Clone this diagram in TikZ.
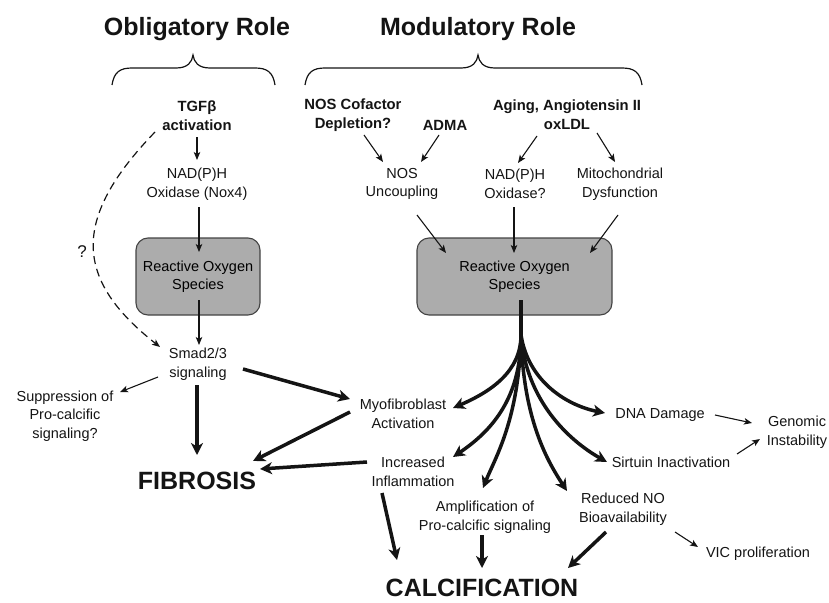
\documentclass[tikz,border=0pt]{standalone}
\usepackage{fontspec}
\setmainfont{Liberation Sans}
\usetikzlibrary{arrows.meta}
\definecolor{rosgray}{RGB}{172,172,172}
\definecolor{ink}{RGB}{20,20,20}
\tikzset{
  txt/.style={inner sep=0pt, align=center, text=ink, font=\fontsize{14.5}{18.5}\selectfont},
  btxt/.style={txt, font=\fontsize{14.8}{19}\selectfont\bfseries},
  big/.style={inner sep=0pt, text=ink, font=\fontsize{25}{30}\selectfont\bfseries},
  rosbox/.style={draw=ink!80, line width=1.1pt, fill=rosgray, rounded corners=12pt, minimum width=#1, minimum height=77pt, inner sep=0pt, align=center, font=\fontsize{14.5}{18.5}\selectfont},
  thinarr/.style={draw=ink, line width=1.1pt, -{Stealth[length=8pt,width=6.5pt,inset=2pt]}},
  thickarr/.style={draw=ink, line width=3.5pt, -{Stealth[length=12pt,width=12pt,inset=3.5pt]}},
  dasharr/.style={draw=ink, line width=1.2pt, dash pattern=on 8pt off 5pt, -{Stealth[length=8pt,width=6.5pt,inset=2pt]}},
  bracestyle/.style={draw=ink, line width=1.2pt}
}
\begin{document}
\begin{tikzpicture}[x=1pt,y=-1pt]
\useasboundingbox (0,0) rectangle (829,602);
% headings
\node[big] (obl) at (197,29) {Obligatory Role};
\node[big] (mod) at (478,29) {Modulatory Role};
% braces
\draw[bracestyle] (112,85) .. controls (114,72) and (120,68) .. (132,68) -- (176,68) .. controls (188,68) and (192,62) .. (193,55) .. controls (194,62) and (198,68) .. (210,68) -- (255,68) .. controls (267,68) and (273,72) .. (275,85);
\draw[bracestyle] (305,85) .. controls (307,72) and (313,68) .. (325,68) -- (461,68) .. controls (473,68) and (477,62) .. (478,55) .. controls (479,62) and (483,68) .. (495,68) -- (622,68) .. controls (634,68) and (640,72) .. (642,85);
% obligatory column
\node[btxt] (tgf) at (197,116) {TGFβ\\activation};
\node[txt] (nox) at (197,184) {NAD(P)H\\Oxidase (Nox4)};
\node[rosbox=124pt] (ros1) at (198,276.5) {Reactive Oxygen\\Species};
\node[txt] (smad) at (198,364) {Smad2/3\\signaling};
\node[txt] (supp) at (65,416) {Suppression of\\Pro-calcific\\signaling?};
\node[txt, font=\fontsize{17}{20}\selectfont] (q) at (82,252) {?};
\node[big] (fib) at (197,481) {FIBROSIS};
% modulatory column
\node[btxt] (cof) at (353,115) {NOS Cofactor\\Depletion?};
\node[btxt] (adma) at (445,125) {ADMA};
\node[btxt] (aging) at (567,115) {Aging, Angiotensin II\\oxLDL};
\node[txt] (nosu) at (402,184) {NOS\\Uncoupling};
\node[txt] (nadox) at (515,184) {NAD(P)H\\Oxidase?};
\node[txt] (mito) at (620,184) {Mitochondrial\\Dysfunction};
\node[rosbox=195pt] (ros2) at (514.5,276.5) {Reactive Oxygen\\Species};
% effects
\node[txt] (myo) at (403,414) {Myofibroblast\\Activation};
\node[txt] (infl) at (413,472) {Increased\\Inflammation};
\node[txt] (ampl) at (485,517) {Amplification of\\Pro-calcific signaling};
\node[txt] (rno) at (623,509) {Reduced NO\\Bioavailability};
\node[txt] (vic) at (758,554) {VIC proliferation};
\node[txt] (dna) at (660,415) {DNA Damage};
\node[txt] (sirt) at (671,462) {Sirtuin Inactivation};
\node[txt] (gen) at (797,432) {Genomic\\Instability};
\node[big] (calc) at (482,588) {CALCIFICATION};
% obligatory arrows
\draw[thinarr] ([shift={(0,21)}]tgf.center) -- ([shift={(0,-24)}]nox.center);
\draw[thinarr] ([shift={(2,23)}]nox.center) -- ([shift={(1,-24.5)}]ros1.center);
\draw[thinarr] ([shift={(1,23.5)}]ros1.center) -- ([shift={(1,-19)}]smad.center);
\draw[dasharr] ([shift={(-42,16)}]tgf.center) .. controls (70,220) and (75,280) .. ([shift={(-38,-17)}]smad.center);
\draw[thinarr] ([shift={(-40,13)}]smad.center) -- ([shift={(55,-24)}]supp.center);
\draw[thickarr] ([shift={(-1,21)}]smad.center) -- ([shift={(0,-26)}]fib.center);
\draw[thickarr] ([shift={(45,5)}]smad.center) -- ([shift={(-53,-15)}]myo.center);
\draw[thickarr] ([shift={(-53,-2)}]myo.center) -- ([shift={(56,-20)}]fib.center);
\draw[thickarr] ([shift={(-46,-10)}]infl.center) -- ([shift={(63,-12)}]fib.center);
\draw[thickarr] ([shift={(-31,21)}]infl.center) -- ([shift={(-85,-28)}]calc.center);
\draw[thickarr] ([shift={(-3,18)}]ampl.center) -- ([shift={(0,-20)}]calc.center);
\draw[thickarr] ([shift={(-17,23)}]rno.center) -- ([shift={(86,-20)}]calc.center);
\draw[thinarr] ([shift={(52,23)}]rno.center) -- ([shift={(-60,-7)}]vic.center);
\draw[thinarr] ([shift={(55,0)}]dna.center) -- ([shift={(-45,-9)}]gen.center);
\draw[thinarr] ([shift={(66,-8)}]sirt.center) -- ([shift={(-37,7)}]gen.center);
% modulatory arrows
\draw[thinarr] ([shift={(11,20)}]cof.center) -- ([shift={(-19,-22)}]nosu.center);
\draw[thinarr] ([shift={(-6,10)}]adma.center) -- ([shift={(19,-22)}]nosu.center);
\draw[thinarr] ([shift={(-30,21)}]aging.center) -- ([shift={(3,-21)}]nadox.center);
\draw[thinarr] ([shift={(30,18)}]aging.center) -- ([shift={(-5,-22)}]mito.center);
\draw[thinarr] ([shift={(15,31)}]nosu.center) -- ([shift={(-68.5,-23.5)}]ros2.center);
\draw[thinarr] ([shift={(-1,23)}]nadox.center) -- ([shift={(-0.5,-23.5)}]ros2.center);
\draw[thinarr] ([shift={(-2,31)}]mito.center) -- ([shift={(75.5,-23.5)}]ros2.center);
% fan from ROS
\coordinate (fan) at (521,335);
\draw[draw=ink, line width=4.5pt] ([shift={(6.5,23.5)}]ros2.center) -- ([shift={(0,2)}]fan);
\draw[thickarr] (fan) .. controls (521,372) and (490,392) .. ([shift={(50,-6)}]myo.center);
\draw[thickarr] (fan) .. controls (521,400) and (490,432) .. ([shift={(40,-15)}]infl.center);
\draw[thickarr] (fan) .. controls (519,420) and (495,458) .. ([shift={(-2,-29)}]ampl.center);
\draw[thickarr] (fan) .. controls (523,420) and (548,462) .. ([shift={(-56,-18)}]rno.center);
\draw[thickarr] (fan) .. controls (526,400) and (568,440) .. ([shift={(-64,0)}]sirt.center);
\draw[thickarr] (fan) .. controls (528,380) and (565,405) .. ([shift={(-55,-2)}]dna.center);
\end{tikzpicture}
\end{document}
